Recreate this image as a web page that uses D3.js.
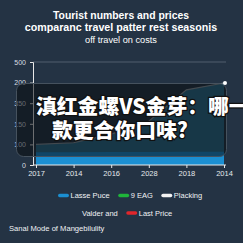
<!DOCTYPE html>
<html>
<head>
<meta charset="utf-8">
<script src="https://cdn.jsdelivr.net/npm/d3@7"></script>
<style>
  html, body { margin: 0; padding: 0; background: #243344; }
  svg { display: block; font-family: "Liberation Sans", Arial, sans-serif; }
</style>
</head>
<body>
<svg id="chart"></svg>
<script>
const W = 243, H = 243;

// data
const yearLabels = ['2017', '2014', '2016', '2028', '2018', '2014'];
const priceLine = [100, 108, 150, 212, 365, 398];
const baseArea = [62, 62, 63, 63, 64, 64];
const yTickValues = [0, 100, 200, 300, 400, 500];
const yTickLabels = ['0', '100', '150', '350', '200', '500'];
const legendRow1 = [
  {name: 'Lasse Puce', color: '#1b8fd2'},
  {name: '9 EAG', color: '#1fb53a'},
  {name: 'Placking', color: '#f2f2f2'}
];
const legendRow2 = [
  {name: 'Valder and', color: null},
  {name: 'Last Price', color: '#e0262b'}
];

const svg = d3.select('svg#chart')
  .attr('width', W)
  .attr('height', H);

svg.append('rect').attr('width', W).attr('height', H).attr('fill', '#243344');

// titles
const titles = [
  {t: 'Tourist numbers and prices', y: 18.5, size: 10.4, w: 700},
  {t: 'comparanc travel patter rest seasonis', y: 31, size: 10.7, w: 700},
  {t: 'off travel on costs', y: 42.5, size: 9.2, w: 400}
];
svg.selectAll('text.title').data(titles).join('text')
  .attr('class', 'title')
  .attr('x', 121).attr('y', d => d.y)
  .attr('text-anchor', 'middle')
  .attr('fill', '#fff')
  .attr('font-size', d => d.size)
  .attr('font-weight', d => d.w)
  .text(d => d.t);

const x = d3.scalePoint()
  .domain(d3.range(yearLabels.length))
  .range([36, 224]);

const y = d3.scaleLinear()
  .domain([0, 500])
  .range([165, 62]);

// gridline at top
svg.append('line')
  .attr('x1', 33).attr('x2', 226)
  .attr('y1', y(500)).attr('y2', y(500))
  .attr('stroke', '#5d6b7a').attr('stroke-width', 0.8);

// area under the price line
const under = d3.area()
  .x((d, i) => x(i))
  .y0(y(0))
  .y1(d => y(d));
svg.append('path').datum(priceLine)
  .attr('d', under)
  .attr('fill', '#2a6d8c');

svg.append('path').datum(baseArea)
  .attr('d', under)
  .attr('fill', '#1b8fd2');

svg.append('path').datum(priceLine)
  .attr('d', d3.line().x((d, i) => x(i)).y(d => y(d)))
  .attr('fill', 'none')
  .attr('stroke', '#8a949c').attr('stroke-width', 1.2);

// axes
const yAxis = svg.append('g')
  .attr('transform', 'translate(33,0)')
  .call(d3.axisLeft(y).tickValues(yTickValues)
    .tickFormat((d, i) => yTickLabels[i]).tickSize(3).tickPadding(4));
yAxis.select('.domain').attr('stroke', '#e8e8e8');
yAxis.selectAll('.tick line').attr('stroke', '#e8e8e8');
yAxis.selectAll('.tick text').attr('fill', '#d8dde2').attr('font-size', 7);

const xAxis = svg.append('g')
  .attr('transform', 'translate(0,165)')
  .call(d3.axisBottom(x).tickFormat(i => yearLabels[i]).tickSize(3).tickPadding(3));
xAxis.select('.domain').attr('d', 'M33,0H226').attr('stroke', '#e8e8e8');
xAxis.selectAll('.tick line').attr('stroke', '#e8e8e8');
xAxis.selectAll('.tick text').attr('fill', '#e6e9ec').attr('font-size', 7.5);

// overlay card
svg.append('rect')
  .attr('x', 16.5).attr('y', 83.5).attr('width', 210).attr('height', 73)
  .attr('rx', 7)
  .attr('fill', '#080b0e').attr('fill-opacity', 0.55)
  .attr('stroke', '#46525e').attr('stroke-width', 1);

svg.append('circle')
  .attr('cx', x(priceLine.length - 1) + 1)
  .attr('cy', y(priceLine[priceLine.length - 1]))
  .attr('r', 2)
  .attr('fill', '#fff');

const cjk = [
  {t: '滇红金螺VS金芽：哪一', x: 36, y: 114},
  {t: '款更合你口味?', x: 52, y: 138}
];
svg.selectAll('text.cjk').data(cjk).join('text')
  .attr('class', 'cjk')
  .attr('x', d => d.x).attr('y', d => d.y)
  .attr('font-family', '"Noto Sans CJK SC", sans-serif')
  .attr('font-size', 20.8)
  .attr('font-weight', 900)
  .attr('fill', '#fff')
  .attr('stroke', '#111')
  .attr('stroke-width', 2.5)
  .attr('paint-order', 'stroke')
  .text(d => d.t);

// legend
function legendRow(items, cy, startX) {
  const g = svg.append('g').attr('transform', `translate(${startX},${cy})`);
  let cx = 0;
  items.forEach(d => {
    if (d.color) {
      g.append('rect').attr('x', cx).attr('y', -1.7).attr('width', 11).attr('height', 3.4)
        .attr('rx', 1.7).attr('fill', d.color);
      cx += 12.5;
    }
    const t = g.append('text').attr('x', cx).attr('y', 2.7)
      .attr('fill', '#f0f2f4').attr('font-size', 7.5).text(d.name);
    cx += t.node().getComputedTextLength() + 8.5;
  });
}
legendRow(legendRow1, 195.5, 58);
legendRow(legendRow2, 213, 82);

svg.append('text')
  .attr('x', 9).attr('y', 231)
  .attr('fill', '#f0f2f4').attr('font-size', 7.6)
  .text('Sanal Mode of Mangebilulity');
</script>
</body>
</html>
